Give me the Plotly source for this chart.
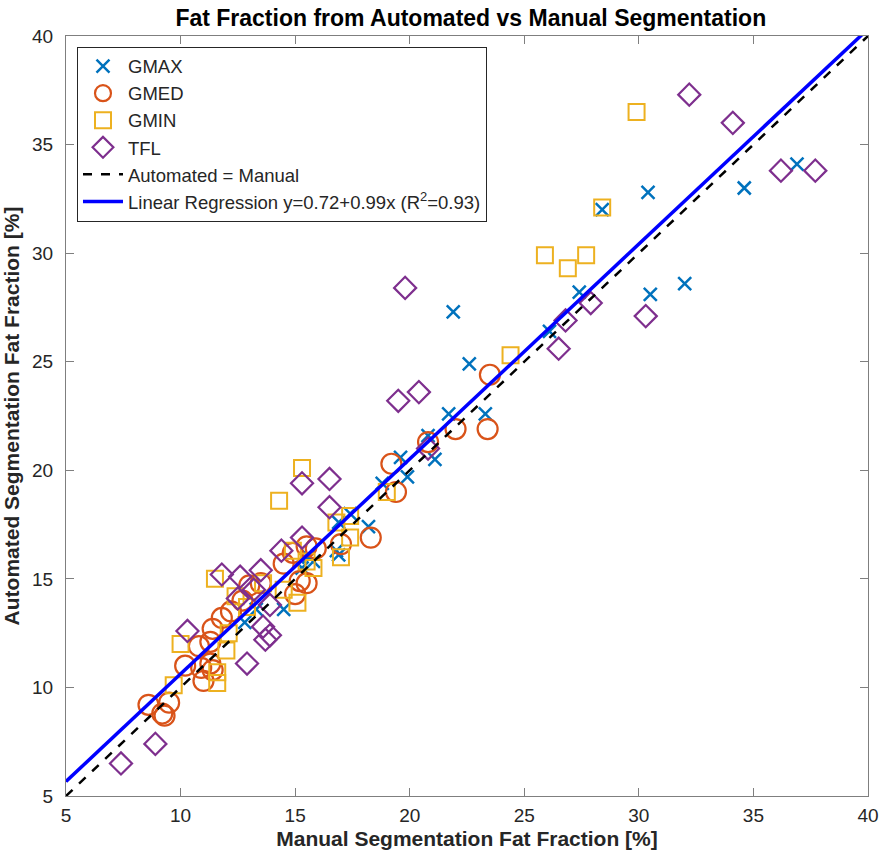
import plotly.graph_objects as go

# ---- data (manual %, automated %) ----
gmax_x = [36.9, 34.6, 30.4, 28.4, 27.4, 30.5, 32.0, 26.1, 21.9, 22.6, 21.7, 23.3, 20.8, 19.6, 21.1,
          19.9, 18.8, 18.2, 17.4, 16.9, 16.8, 15.8, 15.3, 14.5, 13.3, 15.6, 12.8, 16.9]
gmax_y = [34.1, 33.0, 32.8, 32.0, 28.2, 28.1, 28.6, 26.4, 27.3, 24.9, 22.6, 22.6, 21.6, 20.6, 20.5,
          19.7, 19.4, 17.4, 18.0, 17.6, 16.3, 15.8, 15.5, 13.6, 13.6, 16.0, 13.0, 16.1]

gmed_x = [8.6, 9.2, 9.3, 9.5, 10.2, 10.9, 11.0, 11.4, 11.3, 10.8, 11.3, 11.4, 11.8, 12.2, 12.7, 13.0,
          13.5, 14.5, 14.9, 15.0, 15.2, 15.5, 15.5, 15.9, 17.0, 18.3, 19.2, 19.4, 20.8, 22.0, 23.4, 23.5]
gmed_y = [9.2, 8.8, 8.7, 9.3, 11.0, 10.9, 10.3, 10.8, 11.1, 11.9, 12.1, 12.7, 13.2, 13.5, 14.0, 14.7,
          14.8, 15.7, 16.2, 14.3, 14.9, 14.8, 16.5, 16.4, 16.6, 16.9, 20.3, 19.0, 21.3, 21.9, 21.9, 24.4]

gmin_x = [9.7, 10.0, 11.6, 11.6, 12.0, 12.1, 11.5, 12.4, 12.9, 13.6, 14.5, 15.1, 14.9, 15.5, 15.8,
          16.8, 17.0, 17.4, 17.4, 19.0, 14.3, 15.3, 24.4, 25.9, 26.9, 27.7, 28.4, 29.9]
gmin_y = [10.1, 12.0, 10.2, 10.7, 11.7, 12.5, 15.0, 14.2, 13.7, 14.8, 14.5, 13.9, 16.3, 15.8, 15.5,
          17.6, 16.0, 16.9, 17.9, 19.0, 18.6, 20.1, 25.3, 29.9, 29.3, 29.9, 32.1, 36.5]

tfl_x = [7.4, 8.9, 10.3, 11.8, 12.6, 13.5, 13.2, 12.5, 13.6, 13.9, 13.7, 13.9, 12.9, 14.4, 15.3,
         15.3, 16.5, 16.5, 19.8, 19.5, 20.4, 20.8, 26.5, 26.8, 27.9, 30.3, 32.2, 34.1, 36.2, 37.7]
tfl_y = [6.5, 7.4, 12.6, 15.2, 15.1, 15.4, 14.5, 14.1, 12.8, 12.4, 12.2, 13.8, 11.1, 16.3, 16.9,
         19.4, 19.6, 18.3, 28.4, 23.2, 23.6, 21.0, 25.6, 26.9, 27.7, 27.1, 37.3, 36.0, 33.8, 33.8]

line_x = [5, 40]
intercept, slope = 0.72, 0.99
tick_vals = [5, 10, 15, 20, 25, 30, 35, 40]

FONT = "Arial, Liberation Sans, Helvetica, sans-serif"

fig = go.Figure()
fig.add_trace(go.Scatter(x=gmax_x, y=gmax_y, mode="markers", name="GMAX",
                         marker=dict(symbol="x-thin-open", size=13, color="#0072BD",
                                     line=dict(width=2.5, color="#0072BD"))))
fig.add_trace(go.Scatter(x=gmed_x, y=gmed_y, mode="markers", name="GMED",
                         marker=dict(symbol="circle-open", size=20, color="#D95319",
                                     line=dict(width=2.2, color="#D95319"))))
fig.add_trace(go.Scatter(x=gmin_x, y=gmin_y, mode="markers", name="GMIN",
                         marker=dict(symbol="square-open", size=16, color="#EDB120",
                                     line=dict(width=2, color="#EDB120"))))
fig.add_trace(go.Scatter(x=tfl_x, y=tfl_y, mode="markers", name="TFL",
                         marker=dict(symbol="diamond-open", size=17, color="#7E2F8E",
                                     line=dict(width=2.2, color="#7E2F8E"))))
fig.add_trace(go.Scatter(x=line_x, y=line_x, mode="lines", name="Automated = Manual",
                         line=dict(color="black", width=2.5, dash="dash")))
fig.add_trace(go.Scatter(x=line_x, y=[intercept + slope * v for v in line_x], mode="lines",
                         name="Linear Regression y=0.72+0.99x (R<sup>2</sup>=0.93)",
                         line=dict(color="#0000FF", width=3.5)))

axis_common = dict(range=[5, 40], tickvals=tick_vals, ticks="inside", ticklen=8,
                   tickcolor="#7f7f7f", showline=True, linecolor="#7f7f7f", linewidth=1,
                   mirror="ticks", showgrid=False, zeroline=False, automargin=False,
                   tickfont=dict(family=FONT, size=19, color="#262626"))

fig.update_layout(
    width=880, height=854,
    margin=dict(l=66, r=12, t=36, b=58),
    paper_bgcolor="white", plot_bgcolor="white",
    title=dict(text="<b>Fat Fraction from Automated vs Manual Segmentation</b>",
               x=0.535, xanchor="center", y=0.979, yanchor="middle",
               font=dict(family=FONT, size=23, color="black")),
    xaxis=dict(axis_common, ticklabelstandoff=2,
               title=dict(text="<b>Manual Segmentation Fat Fraction [%]</b>",
                          font=dict(family=FONT, size=21, color="#262626"), standoff=6)),
    yaxis=dict(axis_common, ticklabelstandoff=8,
               title=dict(text="<b>Automated Segmentation Fat Fraction [%]</b>",
                          font=dict(family=FONT, size=21, color="#262626"), standoff=8)),
    legend=dict(x=0.0137, y=0.986, xanchor="left", yanchor="top",
                bgcolor="white", bordercolor="#262626", borderwidth=1,
                font=dict(family=FONT, size=18.5, color="#262626"),
                tracegroupgap=0, itemwidth=40),
    showlegend=True,
)

fig.write_html("out.html")
